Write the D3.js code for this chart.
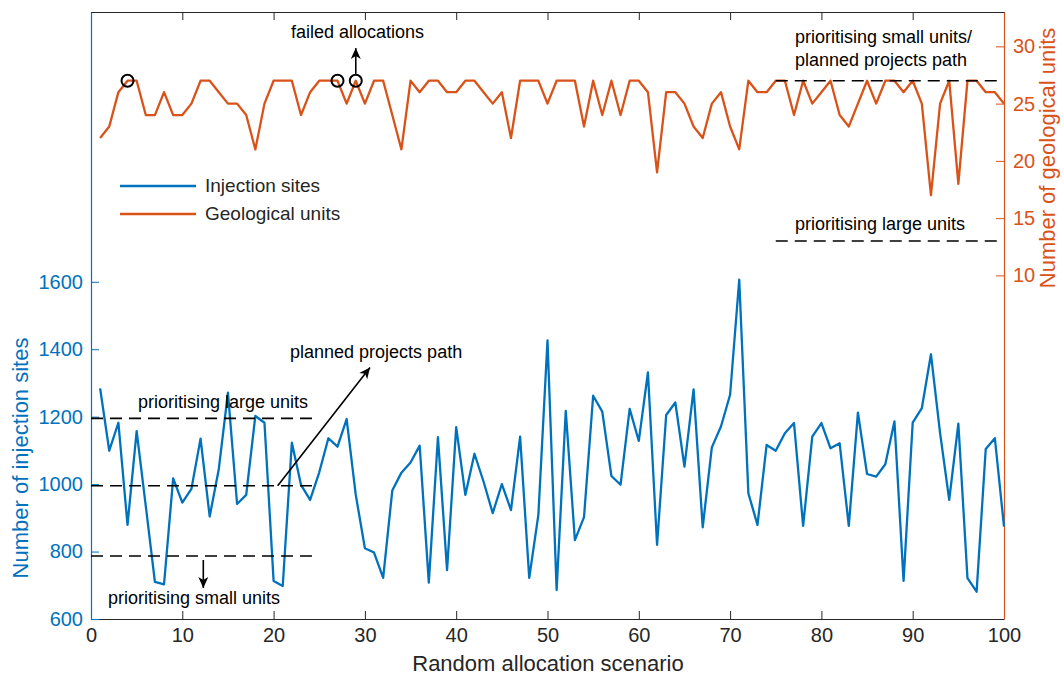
<!DOCTYPE html>
<html>
<head>
<meta charset="utf-8">
<script src="https://cdn.jsdelivr.net/npm/d3@7"></script>
<style>
  body { margin: 0; background: #fff; }
  text { font-family: "Liberation Sans", Arial, sans-serif; }
</style>
</head>
<body>
<script>
// scenario numbers 1..100
var scenarios = d3.range(1, 101);

// number of injection sites per scenario (left axis)
var injectionSites = [
  1284, 1099, 1182, 879, 1157, 935, 710, 703, 1017, 945,
  986, 1135, 904, 1045, 1271, 941, 968, 1202, 1182, 713,
  698, 1123, 998, 953, 1035, 1136, 1111, 1193, 968, 810,
  797, 722, 981, 1034, 1064, 1114, 708, 1139, 745, 1169,
  968, 1090, 1007, 914, 1000, 923, 1141, 722, 909, 1426,
  686, 1217, 834, 902, 1262, 1215, 1024, 998, 1223, 1128,
  1331, 820, 1205, 1242, 1052, 1281, 872, 1109, 1171, 1265,
  1606, 973, 879, 1116, 1099, 1151, 1181, 876, 1141, 1181,
  1106, 1121, 876, 1212, 1030, 1022, 1059, 1186, 713, 1182,
  1225, 1385, 1151, 953, 1179, 721, 681, 1104, 1136, 874
];

// number of geological units per scenario (right axis)
var geoUnits = [
  22, 23, 26, 27, 27, 24, 24, 26, 24, 24,
  25, 27, 27, 26, 25, 25, 24, 21, 25, 27,
  27, 27, 24, 26, 27, 27, 27, 25, 27, 25,
  27, 27, 24, 21, 27, 26, 27, 27, 26, 26,
  27, 27, 26, 25, 26, 22, 27, 27, 27, 25,
  27, 27, 27, 23, 27, 24, 27, 24, 27, 27,
  26, 19, 26, 26, 25, 23, 22, 25, 26, 23,
  21, 27, 26, 26, 27, 27, 24, 27, 25, 26,
  27, 24, 23, 25, 27, 25, 27, 27, 26, 27,
  25, 17, 25, 27, 18, 27, 27, 26, 26, 25
];

var xTicks = d3.range(0, 101, 10);
var leftTicks = [600, 800, 1000, 1200, 1400, 1600];
var rightTicks = [10, 15, 20, 25, 30];

// failed allocations (scenario, units)
var failed = [[4, 27], [27, 27], [29, 27]];

// reference levels
var leftRefs = [1195, 995, 787];   // injection sites, scenarios 0..24.2
var rightRefs = [27, 13];          // geological units, scenarios 75..99.5

var w = 1064, h = 677;
var blue = "#0072BD", orange = "#D95319", dark = "#262626";

var x = d3.scaleLinear().domain([0, 100]).range([91, 1004]);
var yL = d3.scaleLinear().domain([600, 2400]).range([619, 12]);
var yR = d3.scaleLinear().domain([-20, 33]).range([619, 12]);

var svg = d3.select("body").append("svg")
  .attr("width", w)
  .attr("height", h)
  .style("background", "#fff");

// axes
function styleAxis(g, col, fs) {
  g.select(".domain").attr("stroke", col).attr("stroke-width", 1.2);
  g.selectAll(".tick line").attr("stroke", col).attr("stroke-width", 1);
  g.selectAll(".tick text").attr("fill", col)
    .style("font-family", "'Liberation Sans', Arial, sans-serif")
    .style("font-size", fs + "px");
}

var xAxisB = svg.append("g")
  .attr("transform", "translate(0,619)")
  .call(d3.axisBottom(x).tickValues(xTicks).tickSizeInner(-8).tickSizeOuter(0).tickPadding(9))
  .call(function(g) { styleAxis(g, dark, 20); });

var xAxisT = svg.append("g")
  .attr("transform", "translate(0,12)")
  .call(d3.axisTop(x).tickValues(xTicks).tickSizeInner(-8).tickSizeOuter(0).tickFormat(""))
  .call(function(g) { styleAxis(g, dark, 20); });

var yAxisL = svg.append("g")
  .attr("transform", "translate(91,0)")
  .call(d3.axisLeft(yL).tickValues(leftTicks).tickFormat(d3.format("d"))
    .tickSizeInner(-8).tickSizeOuter(0).tickPadding(8))
  .call(function(g) { styleAxis(g, blue, 20); });

var yAxisR = svg.append("g")
  .attr("transform", "translate(1004,0)")
  .call(d3.axisRight(yR).tickValues(rightTicks).tickSizeInner(-8).tickSizeOuter(0).tickPadding(9))
  .call(function(g) { styleAxis(g, orange, 20); });

// axis labels
svg.append("text")
  .attr("x", 548).attr("y", 671)
  .attr("text-anchor", "middle")
  .attr("fill", dark)
  .style("font-size", "22px")
  .text("Random allocation scenario");

svg.append("text")
  .attr("transform", "translate(28,458) rotate(-90)")
  .attr("text-anchor", "middle")
  .attr("fill", blue)
  .style("font-size", "22px")
  .text("Number of injection sites");

svg.append("text")
  .attr("transform", "translate(1055,158) rotate(-90)")
  .attr("text-anchor", "middle")
  .attr("fill", orange)
  .style("font-size", "22px")
  .text("Number of geological units");

// series lines
var blueLine = d3.line()
  .x(function(d, i) { return x(scenarios[i]); })
  .y(function(d) { return yL(d); });

var orangeLine = d3.line()
  .x(function(d, i) { return x(scenarios[i]); })
  .y(function(d) { return yR(d); });

svg.append("path")
  .datum(geoUnits)
  .attr("d", orangeLine)
  .attr("fill", "none")
  .attr("stroke", orange)
  .attr("stroke-width", 2.3)
  .attr("stroke-linejoin", "round");

svg.append("path")
  .datum(injectionSites)
  .attr("d", blueLine)
  .attr("fill", "none")
  .attr("stroke", blue)
  .attr("stroke-width", 2.3)
  .attr("stroke-linejoin", "round");

// dashed reference lines
svg.selectAll(".refL")
  .data(leftRefs)
  .enter()
  .append("line")
  .attr("x1", x(0)).attr("x2", x(24.2))
  .attr("y1", function(d) { return yL(d); })
  .attr("y2", function(d) { return yL(d); })
  .attr("stroke", "#000")
  .attr("stroke-width", 1.6)
  .attr("stroke-dasharray", "12,7");

svg.selectAll(".refR")
  .data(rightRefs)
  .enter()
  .append("line")
  .attr("x1", x(75)).attr("x2", x(99.5))
  .attr("y1", function(d) { return yR(d); })
  .attr("y2", function(d) { return yR(d); })
  .attr("stroke", "#000")
  .attr("stroke-width", 1.6)
  .attr("stroke-dasharray", "12,7");

// failed allocation markers
svg.selectAll(".fail")
  .data(failed)
  .enter()
  .append("circle")
  .attr("cx", function(d) { return x(d[0]); })
  .attr("cy", function(d) { return yR(d[1]); })
  .attr("r", 6)
  .attr("fill", "none")
  .attr("stroke", "#000")
  .attr("stroke-width", 2);

// arrows
svg.append("defs").append("marker")
  .attr("id", "head")
  .attr("viewBox", "-12 -6 14 12")
  .attr("markerWidth", 14).attr("markerHeight", 12)
  .attr("markerUnits", "userSpaceOnUse")
  .attr("refX", 0).attr("refY", 0)
  .attr("orient", "auto")
  .append("path")
  .attr("d", "M0,0 L-11,-5 L-8,0 L-11,5 Z")
  .attr("fill", "#000");

function arrow(x1, y1, x2, y2) {
  svg.append("line")
    .attr("x1", x1).attr("y1", y1)
    .attr("x2", x2).attr("y2", y2)
    .attr("stroke", "#000")
    .attr("stroke-width", 1.6)
    .attr("marker-end", "url(#head)");
}

arrow(x(29), yR(27.6), x(29), yR(29.85));
arrow(x(20.45), yL(995), x(30.56), yL(1346));
arrow(x(12.3), yL(775), x(12.3), yL(692));

// annotation texts
function note(px, py, str) {
  svg.append("text")
    .attr("x", px).attr("y", py)
    .attr("fill", "#000")
    .style("font-size", "18px")
    .text(str);
}

note(x(21.9), yR(30.73), "failed allocations");
note(x(77.1), yR(30.29), "prioritising small units/");
note(x(77.1), yR(28.28), "planned projects path");
note(x(77.1), yR(13.97), "prioritising large units");
note(x(5.15), yL(1226), "prioritising large units");
note(x(21.8), yL(1373), "planned projects path");
note(x(1.86), yL(645), "prioritising small units");

// legend
var legend = svg.append("g").attr("transform", "translate(120,186)");
var legendItems = [["Injection sites", blue], ["Geological units", orange]];

legendItems.forEach(function(item, i) {
  legend.append("line")
    .attr("x1", 0).attr("x2", 76)
    .attr("y1", i * 28).attr("y2", i * 28)
    .attr("stroke", item[1])
    .attr("stroke-width", 2.3);
  legend.append("text")
    .attr("x", 85).attr("y", i * 28 + 6)
    .attr("fill", dark)
    .style("font-size", "19px")
    .text(item[0]);
});
</script>
</body>
</html>
